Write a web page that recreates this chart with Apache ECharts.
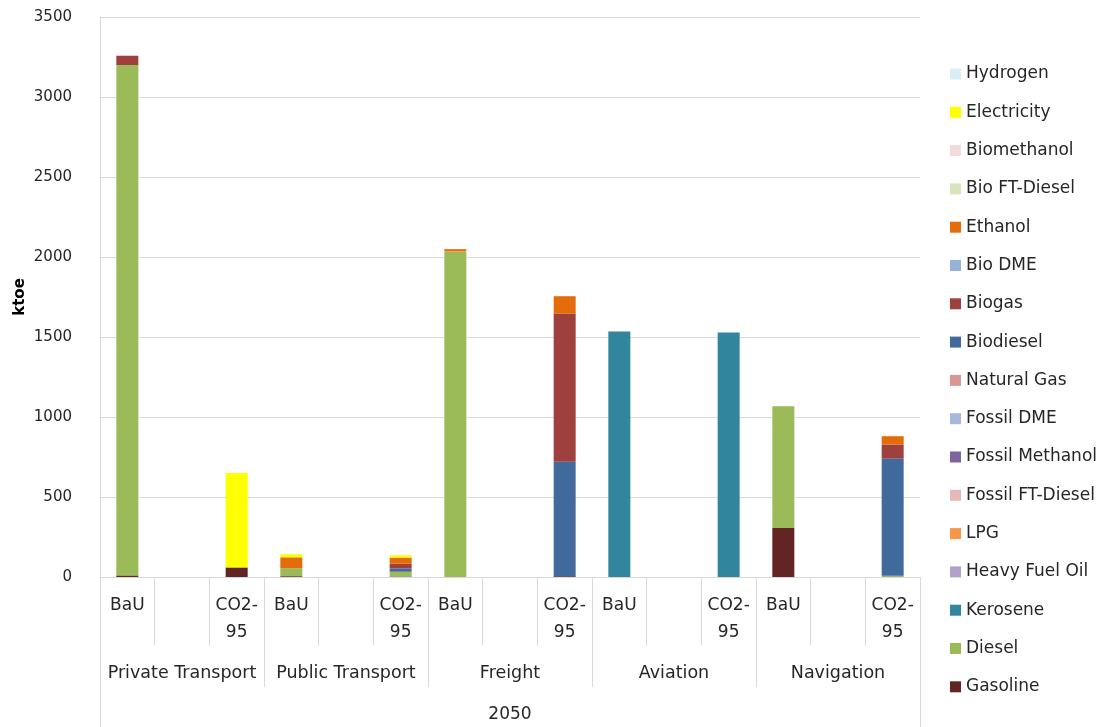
<!DOCTYPE html>
<html>
<head>
<meta charset="utf-8">
<script src="https://cdn.jsdelivr.net/npm/echarts@6/dist/echarts.min.js"></script>
<style>html,body{margin:0;padding:0;background:#fff}#c{width:1112px;height:727px}</style>
</head>
<body>
<div id="c"></div>
<script>
// Categories: 5 sectors x 3 slots (BaU, empty, CO2-95)
const slotLabels = ['BaU','','CO2-\n95','BaU','','CO2-\n95','BaU','','CO2-\n95','BaU','','CO2-\n95','BaU','','CO2-\n95'];
const groups = ['Private Transport','Public Transport','Freight','Aviation','Navigation'];
const yearLabels = ['2050'];
const yTicks = [0,500,1000,1500,2000,2500,3000,3500];

// Series values (ktoe), one value per slot; null = empty slot
const gasoline       = [10,null,60,  5,null,3,   0,null,5,   0,null,0,   306,null,0];
const diesel         = [3190,null,0, 50,null,30, 2032,null,0, 0,null,0,  761,null,8];
const kerosene       = [0,null,0,    0,null,0,   0,null,0,   1535,null,1528, 0,null,0];
const heavyFuelOil   = [0,null,0,    0,null,0,   0,null,0,   0,null,0,   0,null,0];
const lpg            = [0,null,0,    0,null,0,   5,null,0,   0,null,0,   0,null,0];
const fossilFTDiesel = [0,null,0,    0,null,0,   0,null,0,   0,null,0,   0,null,0];
const fossilMethanol = [0,null,0,    0,null,0,   0,null,0,   0,null,0,   0,null,0];
const fossilDME      = [0,null,0,    0,null,0,   0,null,0,   0,null,0,   0,null,0];
const naturalGas     = [0,null,0,    0,null,0,   0,null,0,   0,null,0,   0,null,0];
const biodiesel      = [0,null,0,    0,null,20,  0,null,715, 0,null,0,   0,null,732];
const biogas         = [58,null,0,   0,null,30,  0,null,925, 0,null,0,   0,null,88];
const bioDME         = [0,null,0,    0,null,0,   0,null,0,   0,null,0,   0,null,0];
const ethanol        = [0,null,0,    68,null,38, 12,null,110, 0,null,0,  0,null,52];
const bioFTDiesel    = [0,null,0,    0,null,0,   0,null,0,   0,null,0,   0,null,0];
const biomethanol    = [0,null,0,    0,null,0,   0,null,0,   0,null,0,   0,null,0];
const electricity    = [0,null,590,  20,null,15, 0,null,0,   0,null,0,   0,null,0];
const hydrogen       = [0,null,0,    0,null,0,   0,null,0,   0,null,0,   0,null,0];

// Stack order bottom -> top
const seriesDefs = [
  ['Gasoline', gasoline, '#632523'],
  ['Diesel', diesel, '#9BBB59'],
  ['Kerosene', kerosene, '#31859C'],
  ['Heavy Fuel Oil', heavyFuelOil, '#B3A2C7'],
  ['LPG', lpg, '#F79646'],
  ['Fossil FT-Diesel', fossilFTDiesel, '#E6B9B8'],
  ['Fossil Methanol', fossilMethanol, '#8064A2'],
  ['Fossil DME', fossilDME, '#A6B9DA'],
  ['Natural Gas', naturalGas, '#D99694'],
  ['Biodiesel', biodiesel, '#416A9C'],
  ['Biogas', biogas, '#9E413E'],
  ['Bio DME', bioDME, '#95B3D7'],
  ['Ethanol', ethanol, '#E46C0A'],
  ['Bio FT-Diesel', bioFTDiesel, '#D7E4BD'],
  ['Biomethanol', biomethanol, '#F2DCDB'],
  ['Electricity', electricity, '#FFFF00'],
  ['Hydrogen', hydrogen, '#DBEEF4']
];

const FONT = 'DejaVu Sans';
const TXT = '#262626';
const GRID = '#D9D9D9';

const chart = echarts.init(document.getElementById('c'));
chart.setOption({
  animation: false,
  backgroundColor: '#fff',
  textStyle: { fontFamily: FONT },
  grid: { left: 100, right: 192, top: 17, bottom: 150, containLabel: false, outerBoundsMode: 'none' },
  legend: {
    orient: 'vertical',
    left: 945,
    top: 59,
    itemWidth: 11,
    itemHeight: 11,
    itemGap: 18.3,
    icon: 'rect',
    data: seriesDefs.map(d => d[0]).reverse(),
    textStyle: { fontFamily: FONT, fontSize: 17, color: TXT, lineHeight: 20 }
  },
  xAxis: [
    {
      type: 'category', data: slotLabels, position: 'bottom',
      axisLine: { show: true, lineStyle: { color: GRID } },
      axisTick: { show: true, interval: 0, length: 68, lineStyle: { color: GRID } },
      axisLabel: { interval: 0, margin: 15, fontFamily: FONT, fontSize: 17, color: TXT, lineHeight: 27 }
    },
    {
      type: 'category', data: groups, position: 'bottom',
      axisLine: { show: false },
      axisTick: { show: true, interval: 0, length: 110, lineStyle: { color: GRID } },
      axisLabel: { interval: 0, margin: 87, fontFamily: FONT, fontSize: 17.5, color: TXT }
    },
    {
      type: 'category', data: yearLabels, position: 'bottom',
      axisLine: { show: false },
      axisTick: { show: true, interval: 0, length: 150, lineStyle: { color: GRID } },
      axisLabel: { interval: 0, margin: 129, fontFamily: FONT, fontSize: 17, color: TXT }
    }
  ],
  yAxis: {
    type: 'value', min: yTicks[0], max: yTicks[yTicks.length - 1], interval: 500,
    name: 'ktoe', nameLocation: 'middle', nameGap: 72, nameMoveOverlap: false,
    nameTextStyle: { fontFamily: FONT, fontSize: 15, fontWeight: 'bold', color: '#000' },
    axisLine: { show: true, lineStyle: { color: GRID } },
    axisTick: { show: false },
    splitLine: { lineStyle: { color: GRID } },
    axisLabel: { margin: 28, fontFamily: FONT, fontSize: 15, color: TXT, formatter: v => String(v) }
  },
  series: seriesDefs.map(d => ({
    name: d[0], type: 'bar', stack: 'total', xAxisIndex: 0,
    data: d[1], barWidth: 22,
    itemStyle: { color: d[2] },
    emphasis: { disabled: true }
  }))
});
</script>
</body>
</html>
